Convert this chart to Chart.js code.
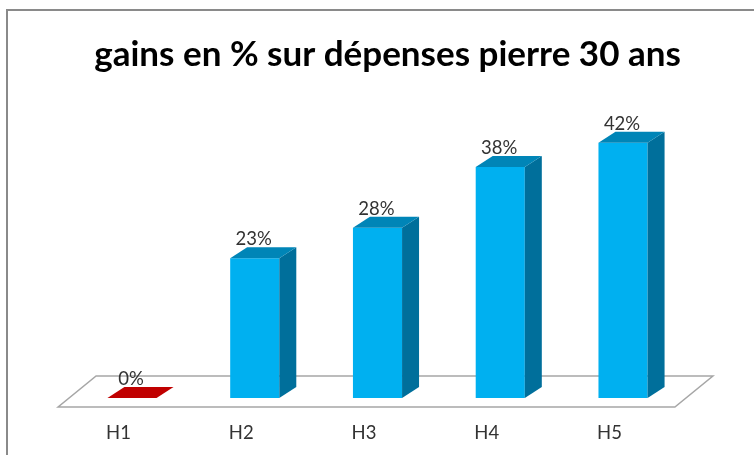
<!DOCTYPE html>
<html lang="fr">
<head>
<meta charset="utf-8">
<title>gains en % sur dépenses pierre 30 ans</title>
<script src="https://cdn.jsdelivr.net/npm/chart.js@4.4.0/dist/chart.umd.min.js"></script>
<style>
  html, body { margin: 0; padding: 0; background: #fff; overflow: hidden; }
  #wrap { position: relative; width: 754px; height: 455px; overflow: hidden; }
  #frame { position: absolute; left: 6px; top: 9px; width: 800px; height: 500px; border: 2px solid #8a8a8a; }
  canvas { position: absolute; left: 0; top: 0; }
</style>
</head>
<body>
<div id="wrap">
  <div id="frame"></div>
  <canvas id="chart" width="754" height="455"></canvas>
</div>
<script>
// ===== Données
const categories = ['H1', 'H2', 'H3', 'H4', 'H5'];
const gains = [0, 23, 28, 38, 42];   // en %
const yMin = 0;
const yMax = 50;

// ===== Styles
const FONT = 'Lato, "Open Sans", sans-serif';
const FRONT = { red: '#c00000', blue: '#00b0f0' };
const SIDE  = { red: '#8a0000', blue: '#006f9b' };
const TOP   = { red: '#c00000', blue: '#0085b7' };
const DX = 17, DY = 11;             // profondeur des barres 3D
const tone = i => (i === 0 ? 'red' : 'blue');

function poly(ctx, pts, fill) {
  ctx.beginPath();
  ctx.moveTo(pts[0][0], pts[0][1]);
  for (let k = 1; k < pts.length; k++) ctx.lineTo(pts[k][0], pts[k][1]);
  ctx.closePath();
  ctx.fillStyle = fill;
  ctx.fill();
}

// plancher + faces latérales / dessus + étiquettes
const bars3d = {
  id: 'bars3d',
  beforeDatasetsDraw(chart) {
    const { ctx, chartArea: a } = chart;
    const base = chart.scales.y.getPixelForValue(0);
    ctx.save();
    ctx.beginPath();
    ctx.moveTo(a.left - 12.5, base + 9);
    ctx.lineTo(a.right - 9.5, base + 9);
    ctx.lineTo(a.right + 28.5, base - 22);
    ctx.lineTo(a.left + 25.5, base - 22);
    ctx.closePath();
    ctx.fillStyle = '#fff';
    ctx.fill();
    ctx.strokeStyle = '#a6a6a6';
    ctx.lineWidth = 1.5;
    ctx.stroke();
    ctx.restore();
  },
  afterDatasetsDraw(chart) {
    const { ctx } = chart;
    const meta = chart.getDatasetMeta(0);
    ctx.save();
    meta.data.forEach((bar, i) => {
      const { x, y, base, width } = bar.getProps(['x', 'y', 'base', 'width'], true);
      const l = x - width / 2, r = x + width / 2;
      const t = tone(i);
      if (base - y > 0.5) {
        poly(ctx, [[r, y], [r + DX, y - DY], [r + DX, base - DY], [r, base]], SIDE[t]);
      }
      poly(ctx, [[l, y], [r, y], [r + DX, y - DY], [l + DX, y - DY]], TOP[t]);

      ctx.font = '18.5px ' + FONT;
      ctx.fillStyle = '#333';
      ctx.textAlign = 'center';
      ctx.textBaseline = 'alphabetic';
      ctx.fillText(gains[i] + '%', x - 1, y - DY - 2);
    });
    ctx.restore();
  }
};

new Chart(document.getElementById('chart'), {
  type: 'bar',
  data: {
    labels: categories,
    datasets: [{
      data: gains,
      backgroundColor: c => FRONT[tone(c.dataIndex)],
      borderWidth: 0,
      barPercentage: 0.4,
      categoryPercentage: 1.0
    }]
  },
  options: {
    responsive: false,
    animation: false,
    layout: { padding: { top: 10, left: 70.6, right: 49.6, bottom: 10.4 } },
    scales: {
      x: {
        grid: { display: false, drawTicks: false },
        border: { display: false },
        ticks: { font: { family: FONT, size: 18.5 }, color: '#333', padding: 24.4, labelOffset: -13.5 },
        afterFit(s) { s.height = 46.6; }
      },
      y: {
        position: 'right',
        min: yMin,
        max: yMax,
        grid: { display: false, drawTicks: false },
        border: { display: false },
        ticks: { display: false },
        afterFit(s) { s.width = 20; }
      }
    },
    plugins: {
      legend: { display: false },
      tooltip: { enabled: false },
      title: {
        display: true,
        text: 'gains en % sur dépenses pierre 30 ans',
        color: '#000',
        font: { family: FONT, size: 35, weight: 'bold' },
        padding: { top: 24, bottom: 18.2 }
      }
    }
  },
  plugins: [bars3d]
});
</script>
</body>
</html>
